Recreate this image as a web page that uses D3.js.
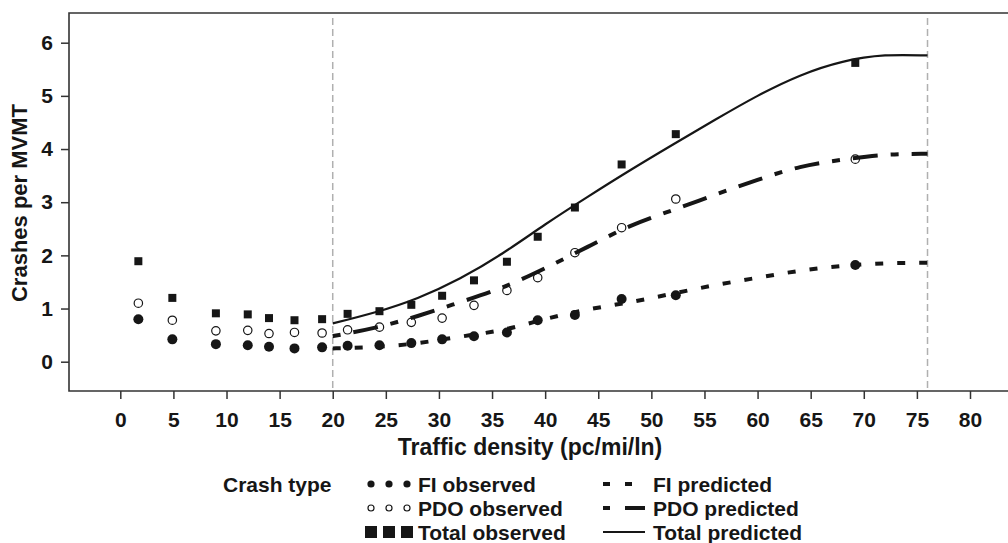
<!DOCTYPE html>
<html>
<head>
<meta charset="utf-8">
<script src="https://cdn.jsdelivr.net/npm/d3@7"></script>
<style>
  body { margin: 0; background: #fff; }
  svg { display: block; font-family: "Liberation Sans", Arial, sans-serif; font-weight: bold; }
</style>
</head>
<body>
<svg width="1008" height="543"></svg>
<script>
// observed points
var density = [1.7, 4.9, 9.0, 12.0, 14.0, 16.4, 19.0, 21.4, 24.4, 27.4, 30.3, 33.3, 36.4, 39.3, 42.8, 47.2, 52.3, 69.2];
var fiObserved = [0.80, 0.42, 0.33, 0.31, 0.28, 0.25, 0.27, 0.30, 0.31, 0.35, 0.42, 0.48, 0.55, 0.78, 0.88, 1.18, 1.25, 1.82];
var pdoObserved = [1.10, 0.78, 0.58, 0.59, 0.53, 0.55, 0.54, 0.60, 0.65, 0.74, 0.82, 1.06, 1.34, 1.58, 2.05, 2.52, 3.06, 3.81];
var totalObserved = [1.89, 1.20, 0.91, 0.89, 0.82, 0.78, 0.80, 0.90, 0.95, 1.07, 1.24, 1.53, 1.88, 2.35, 2.90, 3.71, 4.28, 5.62];

// predicted curves, sampled from the figure
var densityPred = [20, 24, 28, 32, 36, 40, 44, 48, 52, 56, 60, 64, 68, 72, 76];
var fiPredicted = [0.25, 0.28, 0.35, 0.47, 0.60, 0.80, 0.98, 1.12, 1.28, 1.44, 1.58, 1.71, 1.80, 1.85, 1.86];
var pdoPredicted = [0.48, 0.64, 0.86, 1.12, 1.40, 1.76, 2.16, 2.55, 2.85, 3.14, 3.42, 3.66, 3.80, 3.89, 3.91];
var totalPredicted = [0.72, 0.93, 1.20, 1.57, 2.04, 2.58, 3.10, 3.60, 4.08, 4.55, 5.00, 5.38, 5.64, 5.76, 5.76];

var xTicks = [0, 5, 10, 15, 20, 25, 30, 35, 40, 45, 50, 55, 60, 65, 70, 75, 80];
var yTicks = [0, 1, 2, 3, 4, 5, 6];
var boundaries = [20, 76];

var obsLabels = ["FI observed", "PDO observed", "Total observed"];
var predLabels = ["FI predicted", "PDO predicted", "Total predicted"];

var ink = "#161616";
var frameLeft = 69, frameTop = 13, frameBottom = 391, frameRight = 1010;

var svg = d3.select("svg");

var x = d3.scaleLinear().domain([0, 80]).range([120.3, 970]);
var y = d3.scaleLinear().domain([0, 6]).range([361.7, 42.7]);

// frame (no right edge visible)
svg.append("path")
  .attr("d", "M" + frameRight + "," + frameTop + "H" + frameLeft + "V" + frameBottom + "H" + frameRight)
  .attr("fill", "none")
  .attr("stroke", "#333")
  .attr("stroke-width", 1.6);

// axes
var xAxis = svg.append("g")
  .attr("transform", "translate(0," + frameBottom + ")")
  .call(d3.axisBottom(x).tickValues(xTicks).tickSize(8).tickPadding(13));
var yAxis = svg.append("g")
  .attr("transform", "translate(" + frameLeft + ",0)")
  .call(d3.axisLeft(y).tickValues(yTicks).tickFormat(d3.format("d")).tickSize(8).tickPadding(8));

[xAxis, yAxis].forEach(function(g) {
  g.select(".domain").remove();
  g.selectAll(".tick line").attr("stroke", "#333").attr("stroke-width", 1.5);
  g.selectAll(".tick text")
    .attr("fill", ink)
    .style("font-family", "'Liberation Sans', Arial, sans-serif")
    .style("font-weight", "bold")
    .style("font-size", "21px");
});

// vertical reference lines
svg.selectAll(".bound")
  .data(boundaries)
  .enter().append("line")
  .attr("class", "bound")
  .attr("x1", function(d) { return x(d); })
  .attr("x2", function(d) { return x(d); })
  .attr("y1", 18)
  .attr("y2", frameBottom)
  .attr("stroke", "#b0b0b0")
  .attr("stroke-width", 1.5)
  .attr("stroke-dasharray", "7,4");

// observed markers
var obs = density.map(function(d, i) {
  return {x: d, fi: fiObserved[i], pdo: pdoObserved[i], total: totalObserved[i]};
});

svg.selectAll(".sq")
  .data(obs)
  .enter().append("rect")
  .attr("x", function(d) { return x(d.x) - 4; })
  .attr("y", function(d) { return y(d.total) - 4; })
  .attr("width", 8)
  .attr("height", 8)
  .attr("fill", ink);

svg.selectAll(".open")
  .data(obs)
  .enter().append("circle")
  .attr("cx", function(d) { return x(d.x); })
  .attr("cy", function(d) { return y(d.pdo); })
  .attr("r", 4.2)
  .attr("fill", "#fff")
  .attr("stroke", ink)
  .attr("stroke-width", 1.2);

svg.selectAll(".filled")
  .data(obs)
  .enter().append("circle")
  .attr("cx", function(d) { return x(d.x); })
  .attr("cy", function(d) { return y(d.fi); })
  .attr("r", 5)
  .attr("fill", ink);

// predicted curves
var line = d3.line()
  .x(function(d) { return x(d[0]); })
  .y(function(d) { return y(d[1]); })
  .curve(d3.curveNatural);

function pairs(vals) {
  return densityPred.map(function(d, i) { return [d, vals[i]]; });
}

var curves = [
  {vals: fiPredicted, width: 4, dash: "8,14"},
  {vals: pdoPredicted, width: 4, dash: "8,13,25,13"},
  {vals: totalPredicted, width: 2.2, dash: null}
];

curves.forEach(function(c) {
  svg.append("path")
    .datum(pairs(c.vals))
    .attr("d", line)
    .attr("fill", "none")
    .attr("stroke", ink)
    .attr("stroke-width", c.width)
    .attr("stroke-dasharray", c.dash);
});

// axis titles
svg.append("text")
  .attr("x", 530)
  .attr("y", 455)
  .attr("text-anchor", "middle")
  .attr("fill", ink)
  .style("font-size", "23px")
  .text("Traffic density (pc/mi/ln)");

svg.append("text")
  .attr("transform", "translate(27,203) rotate(-90)")
  .attr("text-anchor", "middle")
  .attr("fill", ink)
  .style("font-size", "22px")
  .text("Crashes per MVMT");

// legend
var rowY = [484, 508, 532];
var legend = svg.append("g");

legend.append("text")
  .attr("x", 223)
  .attr("y", 492)
  .attr("fill", ink)
  .style("font-size", "21px")
  .text("Crash type");

[371, 389, 407].forEach(function(cx) {
  legend.append("circle").attr("cx", cx).attr("cy", rowY[0]).attr("r", 3.6).attr("fill", ink);
  legend.append("circle").attr("cx", cx).attr("cy", rowY[1]).attr("r", 3)
    .attr("fill", "#fff").attr("stroke", ink).attr("stroke-width", 1.2);
  legend.append("rect").attr("x", cx - 6).attr("y", rowY[2] - 6).attr("width", 12).attr("height", 12).attr("fill", ink);
});

legend.selectAll(".obsLab")
  .data(obsLabels)
  .enter().append("text")
  .attr("x", 418)
  .attr("y", function(d, i) { return rowY[i] + 8; })
  .attr("fill", ink)
  .style("font-size", "21px")
  .text(function(d) { return d; });

curves.forEach(function(c, i) {
  legend.append("line")
    .attr("x1", 603).attr("x2", 645)
    .attr("y1", rowY[i]).attr("y2", rowY[i])
    .attr("stroke", ink)
    .attr("stroke-width", c.width)
    .attr("stroke-dasharray", i === 0 ? "7,15" : (i === 1 ? "7,15,20" : null));
});

legend.selectAll(".predLab")
  .data(predLabels)
  .enter().append("text")
  .attr("x", 653)
  .attr("y", function(d, i) { return rowY[i] + 8; })
  .attr("fill", ink)
  .style("font-size", "21px")
  .text(function(d) { return d; });
</script>
</body>
</html>
